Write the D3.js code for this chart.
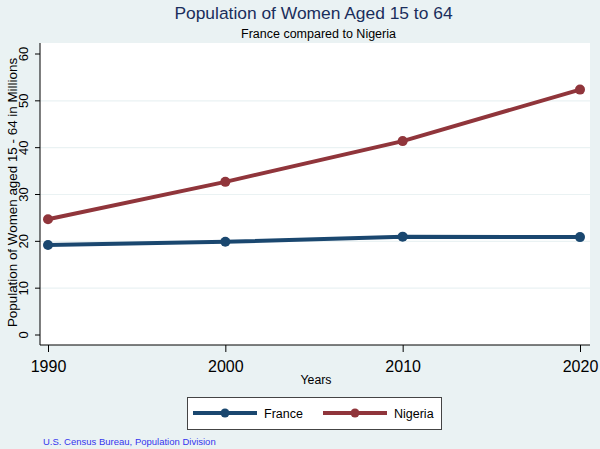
<!DOCTYPE html>
<html><head><meta charset="utf-8">
<script src="https://cdn.jsdelivr.net/npm/d3@7"></script>
<style>body{margin:0;background:#eaf2f3;}svg{display:block;font-family:"Liberation Sans",Arial,sans-serif;}</style>
</head><body>
<svg id="c" width="600" height="449"></svg>
<script>
const years = [1990, 2000, 2010, 2020];
const france = [19.2, 19.9, 21.0, 20.9];
const nigeria = [24.7, 32.7, 41.4, 52.4];
const yTicks = [0, 10, 20, 30, 40, 50, 60];
const seriesNames = ["France", "Nigeria"];
const colors = ["#1a476f", "#90353b"];

const svg = d3.select("#c");
svg.append("rect").attr("width",600).attr("height",449).attr("fill","#eaf2f3");
const L=40, R=590, T=43, B=345;
svg.append("rect").attr("x",L).attr("y",T).attr("width",R-L).attr("height",B-T).attr("fill","#fff");
const x = d3.scaleLinear().domain([1990,2020]).range([48,580]);
const y = d3.scaleLinear().domain([0,60]).range([335,54]);

// grid
svg.append("g").selectAll("line").data(yTicks.filter(d=>d>0&&d<60)).join("line")
  .attr("x1",L).attr("x2",R).attr("y1",d=>y(d)).attr("y2",d=>y(d))
  .attr("stroke","#eaf2f3").attr("stroke-width",1.2);

// axes
const ya = svg.append("g").attr("transform",`translate(${L},0)`)
  .call(d3.axisLeft(y).tickValues(yTicks).tickSize(5).tickSizeOuter(0));
ya.select(".domain").attr("d",`M0,${T}V${B}`).attr("stroke","#000");
ya.selectAll(".tick").attr("transform",null);
ya.selectAll(".tick line").attr("y1",d=>y(d)).attr("y2",d=>y(d)).attr("x2",-5).attr("stroke","#000");
ya.selectAll(".tick text").attr("font-size",13).attr("fill","#000")
  .attr("x",null).attr("dy",null).attr("text-anchor","middle")
  .attr("transform",d=>`translate(-12,${y(d)}) rotate(-90)`);

const xa = svg.append("g").attr("transform",`translate(0,${B})`)
  .call(d3.axisBottom(x).tickValues(years).tickFormat(d3.format("d")).tickSize(7).tickSizeOuter(0));
xa.select(".domain").attr("d",`M${L},0H${R}`).attr("stroke","#000");
xa.selectAll(".tick line").attr("stroke","#000");
xa.selectAll("text").attr("font-size",16).attr("fill","#000").attr("y",27).attr("dy",null);

// axis titles
svg.append("text").attr("transform","translate(17,192.5) rotate(-90)").attr("text-anchor","middle")
  .attr("font-size",13.4).attr("fill","#000").text("Population of Women aged 15 - 64 in Millions");
svg.append("text").attr("x",316).attr("y",384).attr("text-anchor","middle")
  .attr("font-size",12.3).attr("fill","#000").text("Years");

// titles
svg.append("text").attr("x",313.5).attr("y",19).attr("text-anchor","middle")
  .attr("font-size",17.4).attr("fill","#1a2e5c").text("Population of Women Aged 15 to 64");
svg.append("text").attr("x",318.5).attr("y",38).attr("text-anchor","middle")
  .attr("font-size",12.5).attr("fill","#000").text("France compared to Nigeria");

// series
const data = [france, nigeria];
const line = d3.line().x((d,i)=>x(years[i])).y(d=>y(d));
data.forEach((s,k)=>{
  svg.append("path").datum(s).attr("d",line).attr("fill","none")
    .attr("stroke",colors[k]).attr("stroke-width",4);
  svg.append("g").selectAll("circle").data(s).join("circle")
    .attr("cx",(d,i)=>x(years[i])).attr("cy",d=>y(d)).attr("r",5).attr("fill",colors[k]);
});

// legend
const lg = svg.append("g");
lg.append("rect").attr("x",187.5).attr("y",397.5).attr("width",254).attr("height",32)
  .attr("fill","#fff").attr("stroke","#444").attr("stroke-width",1);
const lx = [193, 323];
const tx = [264, 394];
seriesNames.forEach((n,k)=>{
  lg.append("line").attr("x1",lx[k]).attr("x2",lx[k]+64).attr("y1",413).attr("y2",413)
    .attr("stroke",colors[k]).attr("stroke-width",4);
  lg.append("circle").attr("cx",lx[k]+32).attr("cy",413).attr("r",4.5).attr("fill",colors[k]);
  lg.append("text").attr("x",tx[k]).attr("y",418).attr("font-size",12.5).attr("fill","#000").text(n);
});

svg.append("text").attr("x",43).attr("y",445).attr("font-size",9.5).attr("fill","#3535ee")
  .text("U.S. Census Bureau, Population Division");
</script>
</body></html>
